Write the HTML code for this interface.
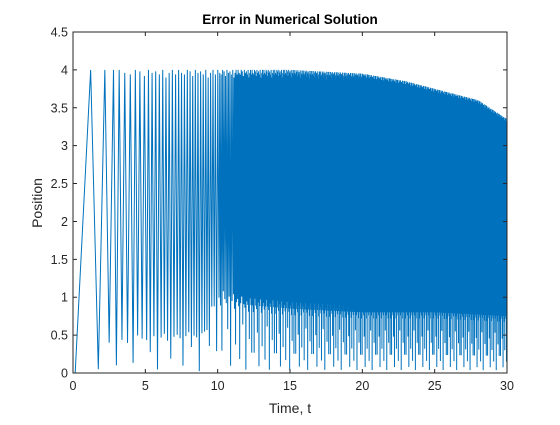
<!DOCTYPE html>
<html><head><meta charset="utf-8"><style>
body{margin:0;background:#fff;}
svg text{font-family:"Liberation Sans",Arial,sans-serif;fill:#262626;}
</style></head><body>
<svg id="chart" width="560" height="420" viewBox="0 0 560 420" xmlns="http://www.w3.org/2000/svg">
<rect width="560" height="420" fill="#fff"/>
<g id="plot"></g>
<g id="axes"></g>
<text x="290" y="24" text-anchor="middle" font-size="13.5" font-weight="bold" style="fill:#000">Error in Numerical Solution</text>
<text x="290" y="413" text-anchor="middle" font-size="14">Time, t</text>
<text transform="translate(42,203) rotate(-90)" text-anchor="middle" font-size="14">Position</text>
</svg>
<script>
const xTicks=[0,5,10,15,20,25,30];
const yTicks=[0,0.5,1,1.5,2,2.5,3,3.5,4,4.5];
const yTickLabels=["0","0.5","1","1.5","2","2.5","3","3.5","4","4.5"];
// early explicit extrema (t, value)
const earlyT=[0,0.15,1.22,1.75,2.2,2.5,2.8,3.0];
const earlyV=[0,0,4,0.05,4,0.4,4,0.1];
// cycles per unit time, for t in [k,k+1) (used from t=3)
const cyclesPerUnit=[0,0,0,2.6,3.2,4,4.5,5,5.5,6,10,14,18,20,22,24,25,26,27,28,29,30,30,31,31,32,32,33,33,34];
// upper envelope samples
const envT=[0,15,18,20,23,25,28,30];
const envHi=[4,4,3.97,3.95,3.85,3.75,3.6,3.35];
// lower envelope base samples
const lowT=[0,9,10,12,15,20,25,30];
const lowBase=[0.4,0.5,1.0,0.9,0.85,0.8,0.8,0.75];
// trough depth factors (cycled)
const troughSeq=[1,0.9,0.3,1.1,1,0.95,0.6,1.05,0.1,1,1.1,0.9,0.4,1,1.05,0.95,0.2,1,1.1,0.7,1,0.95,0.05,1.05,1,0.9,0.5,1.1,1,0.3];
// peak height factors (cycled)
const peakSeq=[1,0.99,0.985,1,0.995,0.98,1,0.99,0.995,0.985,1,0.975,0.99,1,0.985];

const X0=73,X1=507,Y0=373,Y1=32;
const xs=t=>X0+(t-0)/(30-0)*(X1-X0);
const ys=v=>Y0-(v-0)/(4.5-0)*(Y0-Y1);
const NS="http://www.w3.org/2000/svg";
function interp(T,V,t){for(let i=0;i<T.length-1;i++){if(t<=T[i+1]){const f=(t-T[i])/(T[i+1]-T[i]);return V[i]+f*(V[i+1]-V[i]);}}return V[V.length-1];}

const plot=document.getElementById('plot');
const axes=document.getElementById('axes');
let pts=earlyT.map((tt,j)=>[tt,earlyV[j]]);
let t=earlyT[earlyT.length-1],i=0;
while(t<30){
  const k=Math.min(29,Math.floor(t));
  const period=1/cyclesPerUnit[k];
  const tp=t+period/2; if(tp>30)break;
  pts.push([tp,interp(envT,envHi,tp)*peakSeq[i%peakSeq.length]]);
  const tt=t+period; if(tt>30){break;}
  const lb=interp(lowT,lowBase,tt)*troughSeq[i%troughSeq.length];
  pts.push([tt,Math.max(0,lb)]);
  t=tt;i++;
}
pts.push([30,interp(envT,envHi,30)*0.95]);
const line=document.createElementNS(NS,'polyline');


line.setAttribute('points',pts.map(p=>xs(p[0]).toFixed(2)+','+ys(p[1]).toFixed(2)).join(' '));
line.setAttribute('fill','none');line.setAttribute('stroke','#0072BD');line.setAttribute('stroke-width','1');
plot.appendChild(line);

const box=document.createElementNS(NS,'rect');


box.setAttribute('x',X0);box.setAttribute('y',Y1);box.setAttribute('width',X1-X0);box.setAttribute('height',Y0-Y1);
box.setAttribute('fill','none');box.setAttribute('stroke','#262626');box.setAttribute('stroke-width','1');
axes.appendChild(box);
xTicks.forEach(v=>{
  const x=xs(v);
  const tk=document.createElementNS(NS,'path');
  
  
  tk.setAttribute('d',`M${x},${Y0}v-4M${x},${Y1}v4`);tk.setAttribute('stroke','#262626');
  axes.appendChild(tk);
  const tx=document.createElementNS(NS,'text');
  
  
  tx.setAttribute('x',x);tx.setAttribute('y',Y0+17);tx.setAttribute('text-anchor','middle');tx.setAttribute('font-size','12.5');
  tx.textContent=String(v);axes.appendChild(tx);
});
yTicks.forEach((v,j)=>{
  const y=ys(v);
  const tk=document.createElementNS(NS,'path');
  
  
  tk.setAttribute('d',`M${X0},${y}h4M${X1},${y}h-4`);tk.setAttribute('stroke','#262626');
  axes.appendChild(tk);
  const tx=document.createElementNS(NS,'text');
  
  
  tx.setAttribute('x',X0-5);tx.setAttribute('y',y+4.5);tx.setAttribute('text-anchor','end');tx.setAttribute('font-size','12.5');
  tx.textContent=yTickLabels[j];axes.appendChild(tx);
});
</script>
</body></html>
